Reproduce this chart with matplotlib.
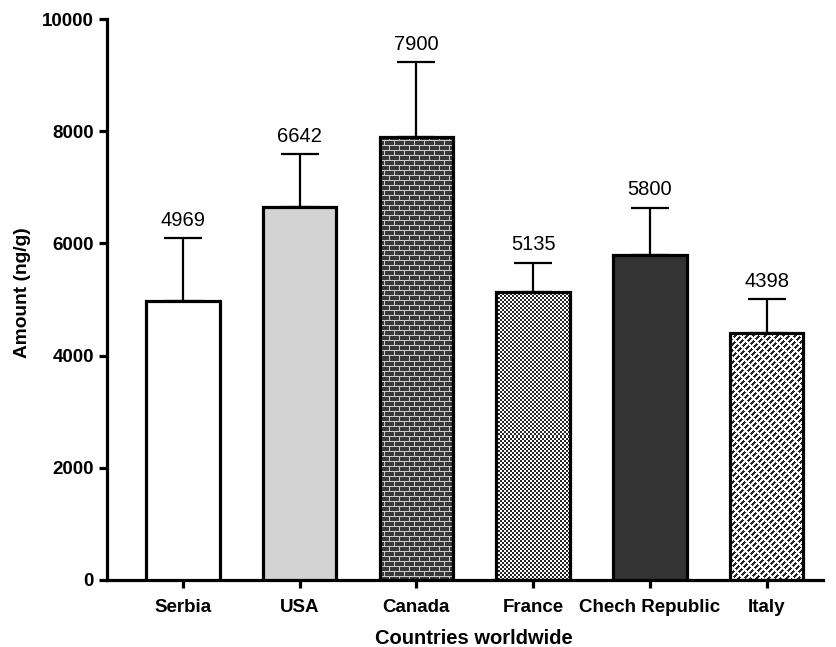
import numpy as np
import matplotlib
matplotlib.use("Agg")
import matplotlib.pyplot as plt

plt.rcParams['font.family'] = ['Liberation Sans', 'DejaVu Sans']

countries = ["Serbia", "USA", "Canada", "France", "Chech Republic", "Italy"]
means = [4969, 6642, 7900, 5135, 5800, 4398]
sds = [1130, 950, 1330, 520, 840, 610]
fills = ["plain_white", "plain_light", "brick", "checker", "plain_dark", "diagonal"]
ytick_vals = [0, 2000, 4000, 6000, 8000, 10000]


def texture(kind, h, w):
    """Return an RGB array (h x w) with the requested fill pattern."""
    yy, xx = np.mgrid[0:h, 0:w]
    img = np.ones((h, w, 3))
    if kind == "brick":
        dark, mortar = 0.22, 0.80
        row = yy // 5
        shift = (row % 2) * 5
        mort = ((yy % 5) == 4) | (((xx + shift) % 10) == 9)
        v = np.where(mort, mortar, dark)
        img[:] = v[..., None]
    elif kind == "checker":
        v = np.where(((xx // 2) + (yy // 2)) % 2 == 0, 0.15, 1.0)
        img[:] = v[..., None]
    elif kind == "diagonal":
        d = (xx + yy) % 6
        s = (xx - yy) % 10
        ink = (d < 3) & (s < 7)
        v = np.where(ink, 0.15, 1.0)
        img[:] = v[..., None]
    return img


fig = plt.figure(figsize=(8.36, 6.47), dpi=100)
ax = fig.add_axes([0.128, 0.1036, 0.856, 0.867])

x = np.arange(len(countries))
width = 0.63
plain_colors = {"plain_white": "white", "plain_light": "#d3d3d3", "plain_dark": "#333333"}

ax.set_xlim(-0.65, 5.48)
ax.set_ylim(0, 10000)

bars = ax.bar(x, means, width=width, color="white", edgecolor="black",
              linewidth=2.3, zorder=3)

fig.canvas.draw()
for b, kind in zip(bars, fills):
    if kind in plain_colors:
        b.set_facecolor(plain_colors[kind])
        continue
    b.set_facecolor("none")
    x0, y0 = b.get_x(), b.get_y()
    x1, y1 = x0 + b.get_width(), y0 + b.get_height()
    p0 = ax.transData.transform((x0, y0))
    p1 = ax.transData.transform((x1, y1))
    wpx = int(round(p1[0] - p0[0]))
    hpx = int(round(p1[1] - p0[1]))
    img = texture(kind, hpx, wpx)
    ax.imshow(img, extent=(x0, x1, y0, y1), origin="upper",
              interpolation="nearest", aspect="auto", zorder=2.5)
ax.set_aspect("auto")
ax.set_xlim(-0.65, 5.48)
ax.set_ylim(0, 10000)

ax.errorbar(x, means, yerr=[np.zeros(len(sds)), sds], fmt="none",
            ecolor="black", elinewidth=1.6, capsize=14, capthick=1.6, zorder=2)

for xi, m, s in zip(x, means, sds):
    ax.annotate(f"{m}", (xi, m + s), xytext=(0, 6), textcoords="offset points",
                ha="center", va="bottom", fontsize=14.5)

for side in ("top", "right"):
    ax.spines[side].set_visible(False)
for side in ("left", "bottom"):
    ax.spines[side].set_linewidth(2.3)

ax.set_yticks(ytick_vals)
ax.set_yticklabels([str(v) for v in ytick_vals], fontsize=13.5, fontweight="bold")
ax.set_xticks(x)
ax.set_xticklabels(countries, fontsize=13.5, fontweight="bold")
ax.tick_params(axis="both", length=6, width=2.3, direction="out")
ax.tick_params(axis="x", pad=8)

ax.set_ylabel("Amount (ng/g)", fontsize=13.8, fontweight="bold", labelpad=8)
ax.set_xlabel("Countries worldwide", fontsize=14.5, fontweight="bold", labelpad=9)
ax.yaxis.label.set_y(0.512)
ax.xaxis.label.set_x(0.513)

fig.savefig("out.png", dpi=100)
